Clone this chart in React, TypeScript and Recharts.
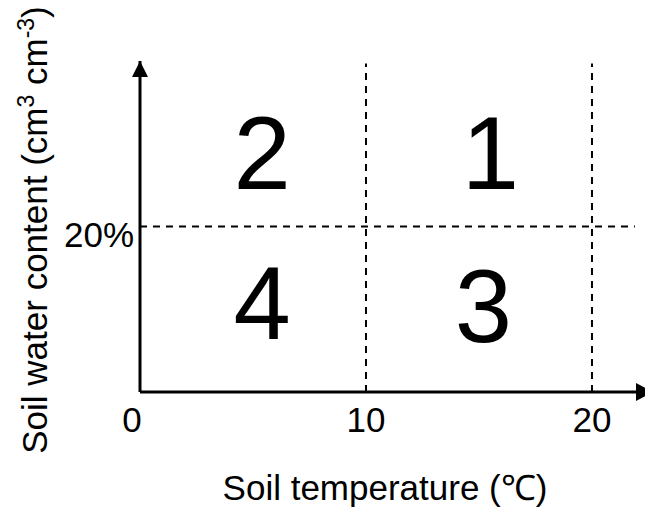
import React from "react";
import {
  ComposedChart,
  Scatter,
  XAxis,
  YAxis,
  ReferenceLine,
  ReferenceDot,
} from "recharts";

// quadrant numbers, placed in data coordinates
const quadrantLabels = [
  { x: 5.4, y: 29, label: "2" },
  { x: 15.5, y: 29, label: "1" },
  { x: 5.4, y: 10.9, label: "4" },
  { x: 15.2, y: 10.5, label: "3" },
];

const xTicks = [0, 10, 20];
const yTicks = [20];
const xDomain: [number, number] = [0, 22.7];
const yDomain: [number, number] = [0, 40];

// dashed threshold lines
const tempThresholds = [10, 20];
const moistureThreshold = 20;
const dashTop = 39.7;
const dashRight = 21.9;

const FONT = "'Liberation Sans', Arial, sans-serif";
const INK = "#000";

function XTick(props: any) {
  const { x, y, payload } = props;
  const shift = payload.value === 0 ? -8 : 0;
  return (
    <text x={x + shift} y={y + 40} textAnchor="middle" fontFamily={FONT} fontSize={35} fill={INK}>
      {payload.value}
    </text>
  );
}

function YTick(props: any) {
  const { x, y, payload } = props;
  return (
    <text x={x - 6} y={y + 20} textAnchor="end" fontFamily={FONT} fontSize={35} fill={INK}>
      {payload.value}%
    </text>
  );
}

function XTitle(props: any) {
  const { viewBox } = props;
  return (
    <text
      x={viewBox.x + 245}
      y={viewBox.y + 108}
      textAnchor="middle"
      fontFamily={FONT}
      fontSize={35}
      fill={INK}
    >
      Soil temperature (℃)
    </text>
  );
}

function YTitle(props: any) {
  const { viewBox } = props;
  const cx = viewBox.x + 47;
  const cy = 230;
  return (
    <text
      x={cx}
      y={cy}
      transform={`rotate(-90 ${cx} ${cy})`}
      textAnchor="middle"
      fontFamily={FONT}
      fontSize={35}
      fill={INK}
    >
      Soil water content (cm
      <tspan dy={-13} fontSize={23}>3</tspan>
      <tspan dy={13}> cm</tspan>
      <tspan dy={-13} fontSize={23}>-3</tspan>
      <tspan dy={13}>)</tspan>
    </text>
  );
}

function ArrowUp(props: any) {
  const { cx, cy } = props;
  return <polygon points={`${cx},${cy} ${cx - 8},${cy + 16} ${cx + 8},${cy + 16}`} fill={INK} />;
}

function ArrowRight(props: any) {
  const { cx, cy } = props;
  return <polygon points={`${cx},${cy} ${cx - 17},${cy - 9} ${cx - 17},${cy + 9}`} fill={INK} />;
}

function QuadrantNumber(props: any) {
  const { cx, cy, payload } = props;
  return (
    <text x={cx} y={cy} dy={37} textAnchor="middle" fontFamily={FONT} fontSize={103} fill={INK}>
      {payload.label}
    </text>
  );
}

export default function App() {
  return (
    <div style={{ position: "absolute", left: 0, top: 0, width: 645, height: 511, overflow: "hidden", background: "#fff" }}>
      <ComposedChart
        width={660}
        height={511}
        data={quadrantLabels}
        margin={{ top: 61, right: 7, bottom: 0, left: 0 }}
      >
        <XAxis
          type="number"
          dataKey="x"
          domain={xDomain}
          ticks={xTicks}
          allowDataOverflow
          height={119}
          tickSize={0}
          tickMargin={0}
          tickLine={false}
          axisLine={{ stroke: INK, strokeWidth: 3 }}
          tick={<XTick />}
          label={<XTitle />}
        />
        <YAxis
          type="number"
          dataKey="y"
          domain={yDomain}
          ticks={yTicks}
          allowDataOverflow
          width={140}
          tickSize={0}
          tickMargin={0}
          tickLine={false}
          axisLine={{ stroke: INK, strokeWidth: 3 }}
          tick={<YTick />}
          label={<YTitle />}
        />
        {tempThresholds.map((t) => (
          <ReferenceLine
            key={t}
            segment={[{ x: t, y: 0 }, { x: t, y: dashTop }]}
            stroke={INK}
            strokeWidth={2}
            strokeDasharray="7 6"
            ifOverflow="visible"
          />
        ))}
        <ReferenceLine
          segment={[{ x: 0, y: moistureThreshold }, { x: dashRight, y: moistureThreshold }]}
          stroke={INK}
          strokeWidth={2}
          strokeDasharray="7 6"
          ifOverflow="visible"
        />
        <ReferenceDot x={0} y={yDomain[1]} ifOverflow="visible" shape={<ArrowUp />} />
        <ReferenceDot x={xDomain[1]} y={0} ifOverflow="visible" shape={<ArrowRight />} />
        <Scatter dataKey="y" isAnimationActive={false} shape={<QuadrantNumber />} />
      </ComposedChart>
    </div>
  );
}
